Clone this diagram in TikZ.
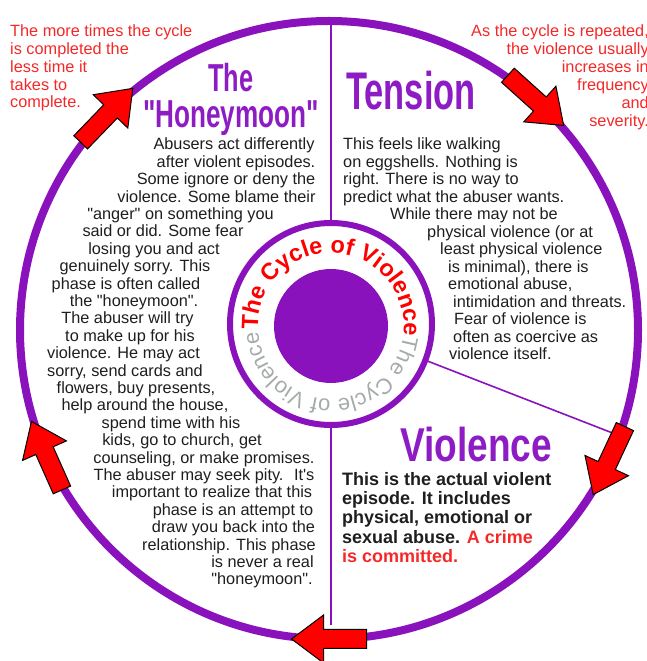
\documentclass[tikz,border=0pt]{standalone}
\usepackage{fontspec}
\setmainfont{Liberation Sans}[Ligatures=TeXOff]
\usepackage{graphicx}
\usetikzlibrary{decorations.text}
\definecolor{vpurple}{RGB}{138,18,188}
\definecolor{tpurple}{RGB}{142,28,196}
\definecolor{vred}{RGB}{255,0,0}
\definecolor{notered}{RGB}{245,40,40}
\definecolor{bodytext}{RGB}{30,30,30}
\definecolor{ringgrey}{RGB}{165,170,172}
\begin{document}
\begin{tikzpicture}[x=1pt,y=1pt,
  ring/.style={circle, draw=vpurple, inner sep=0pt, outer sep=0pt},
  divider/.style={draw=vpurple, line width=1.6pt},
  body/.style={font=\fontsize{16.3}{17.4}\selectfont, text=bodytext, inner sep=0pt},
  boldtxt/.style={font=\fontsize{18}{19.5}\selectfont\bfseries, text=bodytext, inner sep=0pt, anchor=base west},
  note/.style={font=\fontsize{16.3}{17.6}\selectfont, text=notered, inner sep=0pt},
  title/.style={text=tpurple, inner sep=0pt, anchor=base},
  arrowfill/.style={fill=vred, draw=black, line width=1pt, line join=miter},
  redarrow/.pic={\draw[arrowfill] (-37.5,-9.5) -- (5.5,-9.5) -- (5.5,-24) -- (37.5,0) -- (5.5,24) -- (5.5,9.5) -- (-37.5,9.5) -- cycle;}
]
\useasboundingbox (0,0) rectangle (646,661);
% rings
\node[ring, line width=8pt, minimum size=618pt] (outer) at (329,331) {};
\node[ring, line width=6pt, minimum size=202pt] (inner) at (331,337) {};
\node[circle, fill=vpurple, inner sep=0pt, minimum size=114pt] (hub) at (331,335) {};
% dividers
\coordinate (botend) at (331,36);
\draw[divider] (inner.north) -- (inner.north |- outer.north);
\draw[divider] (inner.south) -- (botend);
\draw[divider] (inner.-21.5) -- (outer.-20.3);
% ring text
\path[decorate, decoration={text along path, text={|\fontsize{23.5}{23.5}\selectfont\bfseries\color{vred}|The Cycle of Violence|\fontsize{22}{22}\selectfont\mdseries\color{ringgrey}|The Cycle of Violence}}]
  (hub.center) ++(183:73) arc[start angle=183, end angle=-183, radius=73];
% arrows
\foreach \a in {136,48,-25,-90,204}
  \pic[rotate=\a-90] at ([shift={(\a:309)}]outer.center) {redarrow};
% titles
\node[title] (tension) at (411,551) {\scalebox{0.65}[1]{\fontsize{53}{53}\selectfont\bfseries Tension}};
\node[title] (violence) at (476,199) {\scalebox{0.78}[1]{\fontsize{47.5}{47.5}\selectfont\bfseries Violence}};
\node[title] (the) at (231,569) {\scalebox{0.65}[1]{\fontsize{39}{39}\selectfont\bfseries The}};
\node[title] (honeymoon) at (231,533) {\scalebox{0.67}[1]{\fontsize{39}{39}\selectfont\bfseries "Honeymoon"}};
% side notes
\foreach \t [count=\i] in {The more times the cycle, is completed the, less time it, takes to, complete.}
  \node[note, anchor=base west] (nl\i) at (10,{624-17.7*(\i-1)}) {\t};
\foreach \t [count=\i] in {{As the cycle is repeated,}, the violence usually, increases in, frequency, and, severity.}
  \node[note, anchor=base east] (nr\i) at (649,{624-18*(\i-1)}) {\t};
% honeymoon text
\foreach \x/\t [count=\i] in {234/Abusers act differently,
236/after violent episodes.,
226/Some ignore or deny the,
216.5/violence. Some blame their,
180.5/"anger" on something you,
163/said or did. Some fear,
154/losing you and act,
135/genuinely sorry. This,
126/phase is often called,
134/the "honeymoon".,
127.5/The abuser will try,
130/to make up for his,
123.5/violence. He may act,
125/{sorry, send cards and},
136/{flowers, buy presents,},
145/{help around the house,},
171/spend time with his,
182/{kids, go to church, get},
204/{counseling, or make promises.},
204/{The abuser may seek pity.~ It's},
212/important to realize that this,
233/phase is an attempt to,
233.5/draw you back into the,
229/relationship. This phase,
262.5/is never a real,
262/"honeymoon".}
  \node[body, anchor=base] (h\i) at (\x,{511-17.4*(\i-1)}) {\t};
% tension text
\foreach \x/\t [count=\i] in {343/This feels like walking,
343/on eggshells. Nothing is,
343/right. There is no way to,
343/predict what the abuser wants.,
390/While there may not be,
427/physical violence (or at,
440/least physical violence,
448/{is minimal), there is},
448/{emotional abuse,},
453/intimidation and threats.,
454/Fear of violence is,
453/often as coercive as,
449/violence itself.}
  \node[body, anchor=base west] (t\i) at (\x,{511-17.5*(\i-1)}) {\t};
% violence text
\node[boldtxt] (v1) at (342,175) {This is the actual violent};
\node[boldtxt] (v2) at (342,156) {episode. It includes};
\node[boldtxt] (v3) at (342,137) {physical, emotional or};
\node[boldtxt] (v4) at (342,117) {sexual abuse. \textcolor{notered}{A crime}};
\node[boldtxt, text=notered] (v5) at (342,98) {is committed.};
\end{tikzpicture}
\end{document}
